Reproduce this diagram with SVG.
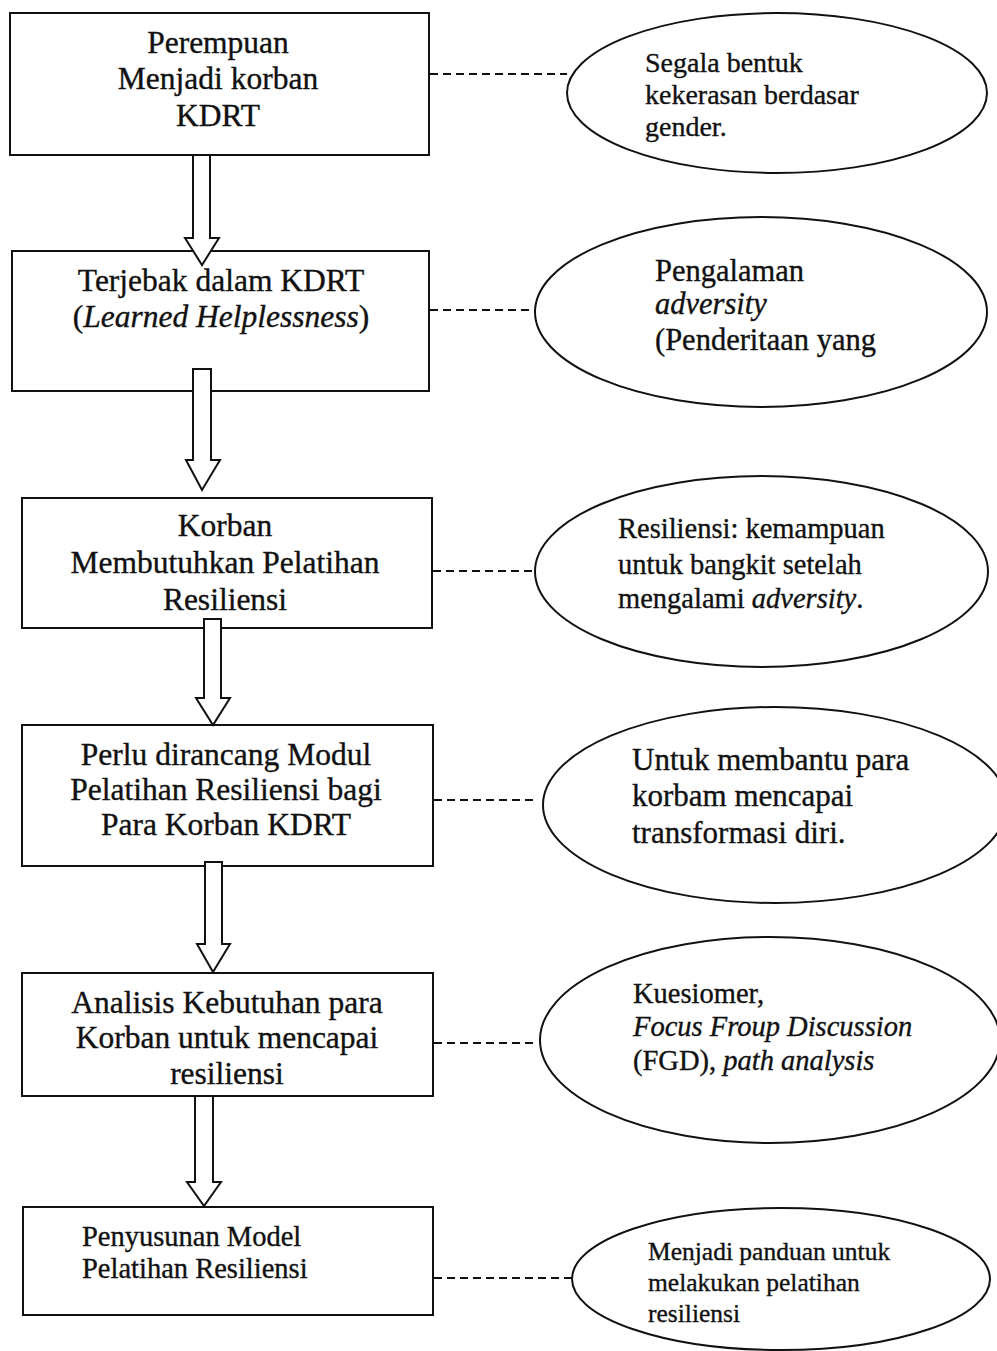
<svg xmlns="http://www.w3.org/2000/svg" width="997" height="1351" viewBox="0 0 997 1351">
<style>
.box{fill:#fff;stroke:#111;stroke-width:2}
.ell{fill:#fff;stroke:#111;stroke-width:2}
.arr{fill:#fff;stroke:#111;stroke-width:2;stroke-linejoin:miter}
.dash{stroke:#111;stroke-width:2;stroke-dasharray:8 5;fill:none}
text{font-family:"Liberation Serif","Times New Roman",serif;fill:#111;stroke:#111;stroke-width:0.35}
.bt{font-size:31.5px;text-anchor:middle}
.i{font-style:italic}
</style>
<rect width="997" height="1351" fill="#fff"/>
<g id="connectors">
<line class="dash" x1="430" y1="74" x2="567" y2="74"/>
<line class="dash" x1="430" y1="310" x2="535" y2="310"/>
<line class="dash" x1="433" y1="571" x2="535" y2="571"/>
<line class="dash" x1="434" y1="800" x2="535" y2="800"/>
<line class="dash" x1="434" y1="1043" x2="537" y2="1043"/>
<line class="dash" x1="434" y1="1278" x2="572" y2="1278"/>
</g>
<g id="node1">
<rect class="box" x="10" y="13" width="419" height="142"/>
<text class="bt" x="218" y="53">Perempuan</text>
<text class="bt" x="218" y="89">Menjadi korban</text>
<text class="bt" x="218" y="126">KDRT</text>
</g>
<g id="node2">
<rect class="box" x="12" y="251" width="417" height="140"/>
<text class="bt" x="221" y="291">Terjebak dalam KDRT</text>
<text class="bt" x="221" y="327">(<tspan class="i">Learned Helplessness</tspan>)</text>
</g>
<g id="node3">
<rect class="box" x="22" y="498" width="410" height="130"/>
<text class="bt" x="225" y="536">Korban</text>
<text class="bt" x="225" y="573">Membutuhkan Pelatihan</text>
<text class="bt" x="225" y="610">Resiliensi</text>
</g>
<g id="node4">
<rect class="box" x="22" y="725" width="411" height="141"/>
<text class="bt" x="226" y="765">Perlu dirancang Modul</text>
<text class="bt" x="226" y="800">Pelatihan Resiliensi bagi</text>
<text class="bt" x="226" y="835">Para Korban KDRT</text>
</g>
<g id="node5">
<rect class="box" x="22" y="973" width="411" height="123"/>
<text class="bt" x="227" y="1013">Analisis Kebutuhan para</text>
<text class="bt" x="227" y="1048">Korban untuk mencapai</text>
<text class="bt" x="227" y="1084">resiliensi</text>
</g>
<g id="node6">
<rect class="box" x="23" y="1207" width="410" height="108"/>
<text x="82" y="1246" font-size="28.5">Penyusunan Model</text>
<text x="82" y="1278" font-size="28.5">Pelatihan Resiliensi</text>
</g>
<g id="arrows">
<polygon class="arr" points="193,155 210,155 210,238 219,238 202,265 185,238 193,238"/>
<polygon class="arr" points="193,369 211,369 211,460 220,460 202,490 186,460 193,460"/>
<polygon class="arr" points="204,619 221,619 221,698 230,698 213,725 196,698 204,698"/>
<polygon class="arr" points="205,862 222,862 222,944 230,944 213,972 197,944 205,944"/>
<polygon class="arr" points="195,1096 213,1096 213,1182 221,1182 204,1206 187,1182 195,1182"/>
</g>
<g id="ellipse1">
<ellipse class="ell" cx="777" cy="93" rx="210" ry="80"/>
<text x="645" y="72" font-size="28">Segala bentuk</text>
<text x="645" y="104" font-size="28">kekerasan berdasar</text>
<text x="645" y="136" font-size="28">gender.</text>
</g>
<g id="ellipse2">
<ellipse class="ell" cx="761" cy="312" rx="226" ry="95"/>
<text x="655" y="281" font-size="30.5">Pengalaman</text>
<text x="655" y="314" font-size="30.5" class="i">adversity</text>
<text x="655" y="350" font-size="30.5">(Penderitaan yang</text>
</g>
<g id="ellipse3">
<ellipse class="ell" cx="761.5" cy="571.5" rx="226.5" ry="95.5"/>
<text x="618" y="538" font-size="28.5">Resiliensi: kemampuan</text>
<text x="618" y="574" font-size="28.5">untuk bangkit setelah</text>
<text x="618" y="608" font-size="28.5">mengalami <tspan class="i">adversity</tspan>.</text>
</g>
<g id="ellipse4">
<ellipse class="ell" cx="775" cy="805" rx="232" ry="98"/>
<text x="632" y="770" font-size="31">Untuk membantu para</text>
<text x="632" y="806" font-size="31">korbam mencapai</text>
<text x="632" y="843" font-size="31">transformasi diri.</text>
</g>
<g id="ellipse5">
<ellipse class="ell" cx="770" cy="1040" rx="230" ry="103"/>
<text x="633" y="1003" font-size="28.5">Kuesiomer,</text>
<text x="633" y="1036" font-size="28.5" class="i">Focus Froup Discussion</text>
<text x="633" y="1070" font-size="28.5">(FGD), <tspan class="i">path analysis</tspan></text>
</g>
<g id="ellipse6">
<ellipse class="ell" cx="781" cy="1279" rx="209" ry="71"/>
<text x="648" y="1260" font-size="25.5">Menjadi panduan untuk</text>
<text x="648" y="1291" font-size="25.5">melakukan pelatihan</text>
<text x="648" y="1322" font-size="25.5">resiliensi</text>
</g>
</svg>
